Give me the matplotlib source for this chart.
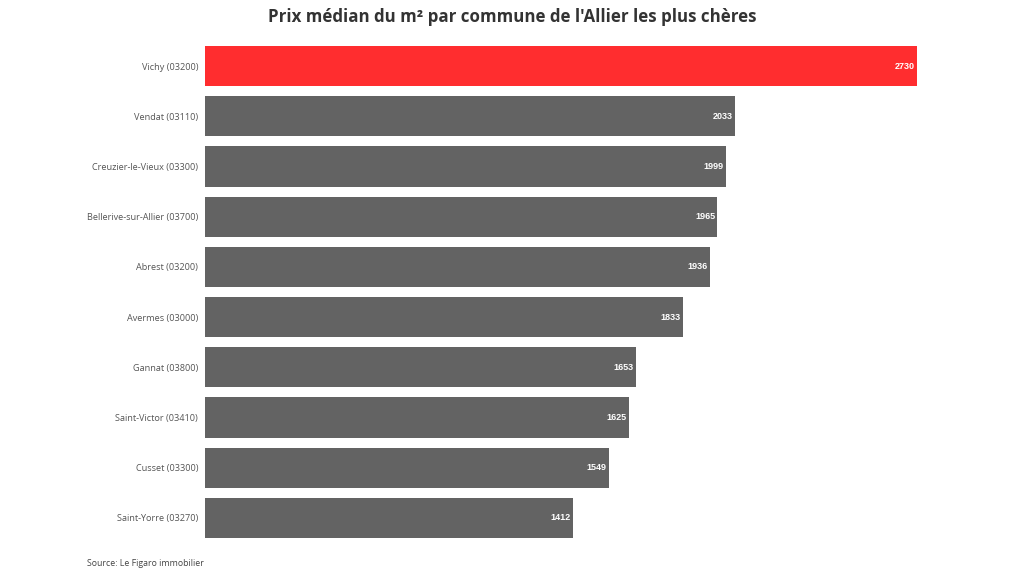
import matplotlib
matplotlib.use("Agg")
import matplotlib.pyplot as plt

plt.rcParams['font.family'] = ['Open Sans', 'DejaVu Sans']

communes = ["Vichy (03200)", "Vendat (03110)", "Creuzier-le-Vieux (03300)",
            "Bellerive-sur-Allier (03700)", "Abrest (03200)", "Avermes (03000)",
            "Gannat (03800)", "Saint-Victor (03410)", "Cusset (03300)",
            "Saint-Yorre (03270)"]
prix = [2730, 2033, 1999, 1965, 1936, 1833, 1653, 1625, 1549, 1412]
couleurs = ["#ff2d2f"] + ["#636363"] * (len(prix) - 1)

fig = plt.figure(figsize=(10.24, 5.76), dpi=100)
ax = fig.add_axes([0.2002, 0.0573, 0.6953, 0.8715])

y = list(range(len(prix)))
ax.barh(y, prix, height=0.8, color=couleurs)
ax.set_ylim(len(prix) - 0.5, -0.5)
ax.set_xlim(0, max(prix))

for yi, v in zip(y, prix):
    ax.text(v - 9, yi, str(v), ha='right', va='center', color='white',
            fontsize=6.5, fontweight='bold', family=['Liberation Sans', 'DejaVu Sans'])

ax.set_yticks(y)
ax.set_yticklabels(communes, fontsize=6.6, color='#555555')
ax.tick_params(axis='y', length=0, pad=5)
ax.set_xticks([])
for s in ax.spines.values():
    s.set_visible(False)

fig.text(0.5, 0.97, "Prix médian du m² par commune de l'Allier les plus chères",
         ha='center', va='center', fontsize=12.2, fontweight='bold', color='#333333')
fig.text(0.085, 0.022, "Source: Le Figaro immobilier", ha='left', va='center',
         fontsize=6.3, color='#444444')

fig.savefig("out.png", dpi=100)
